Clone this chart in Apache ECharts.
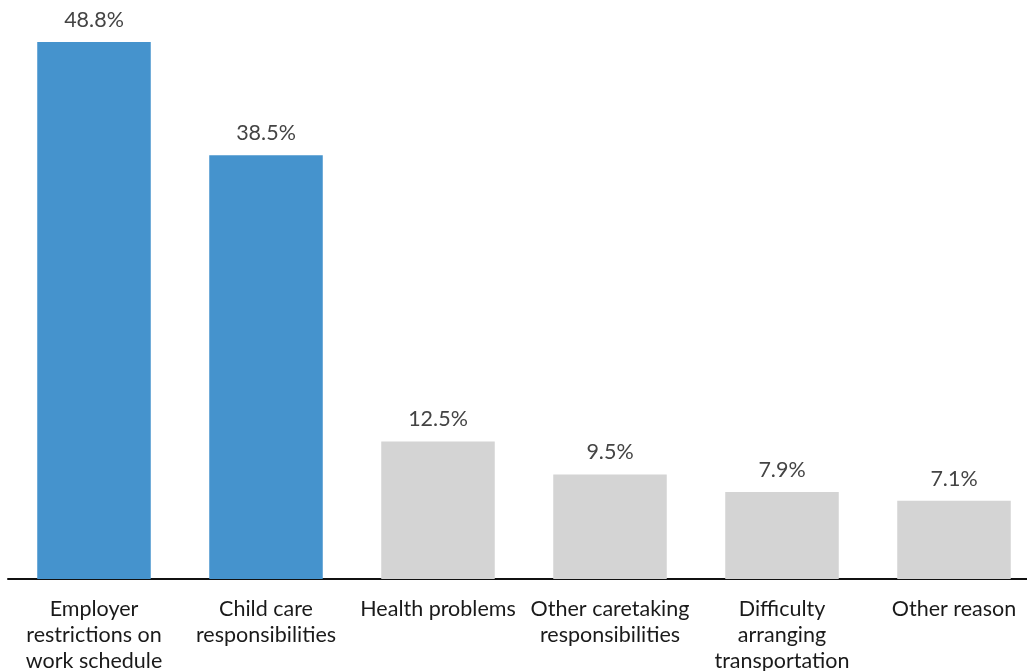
<!DOCTYPE html>
<html>
<head>
<meta charset="utf-8">
<script src="https://cdn.jsdelivr.net/npm/echarts@6/dist/echarts.min.js"></script>
<style>
html,body{margin:0;padding:0;background:#fff;overflow:hidden;}
#chart{width:1027px;height:671px;}
</style>
</head>
<body>
<div id="chart"></div>
<script>
var categories = [
  "Employer\nrestrictions on\nwork schedule",
  "Child care\nresponsibilities",
  "Health problems",
  "Other caretaking\nresponsibilities",
  "Difficulty\narranging\ntransportation",
  "Other reason"
];
var values = [48.8, 38.5, 12.5, 9.5, 7.9, 7.1];
var highlighted = [true, true, false, false, false, false];
var blue = "#4593cd";
var gray = "#d4d4d4";

var chart = echarts.init(document.getElementById("chart"));
chart.setOption({
  animation: false,
  textStyle: { fontFamily: "Lato" },
  grid: { left: 8, width: 1032, top: 42, bottom: 92, containLabel: false, outerBoundsMode: "none" },
  xAxis: {
    type: "category",
    data: categories,
    axisLine: { show: true, lineStyle: { color: "#111", width: 2 } },
    axisTick: { show: false },
    axisLabel: {
      interval: 0,
      fontFamily: "Lato",
      fontSize: 21.5,
      lineHeight: 26,
      color: "#1a1a1a",
      margin: 17
    }
  },
  yAxis: {
    type: "value",
    min: 0,
    max: 48.8,
    show: false,
    splitLine: { show: false }
  },
  series: [{
    type: "bar",
    barWidth: "66%",
    data: values.map(function (v, i) {
      return { value: v, itemStyle: { color: highlighted[i] ? blue : gray } };
    }),
    label: {
      show: true,
      position: "top",
      distance: 11,
      fontFamily: "Lato",
      fontSize: 21.5,
      color: "#444",
      formatter: function (p) { return p.value.toFixed(1) + "%"; }
    }
  }]
});
</script>
</body>
</html>
